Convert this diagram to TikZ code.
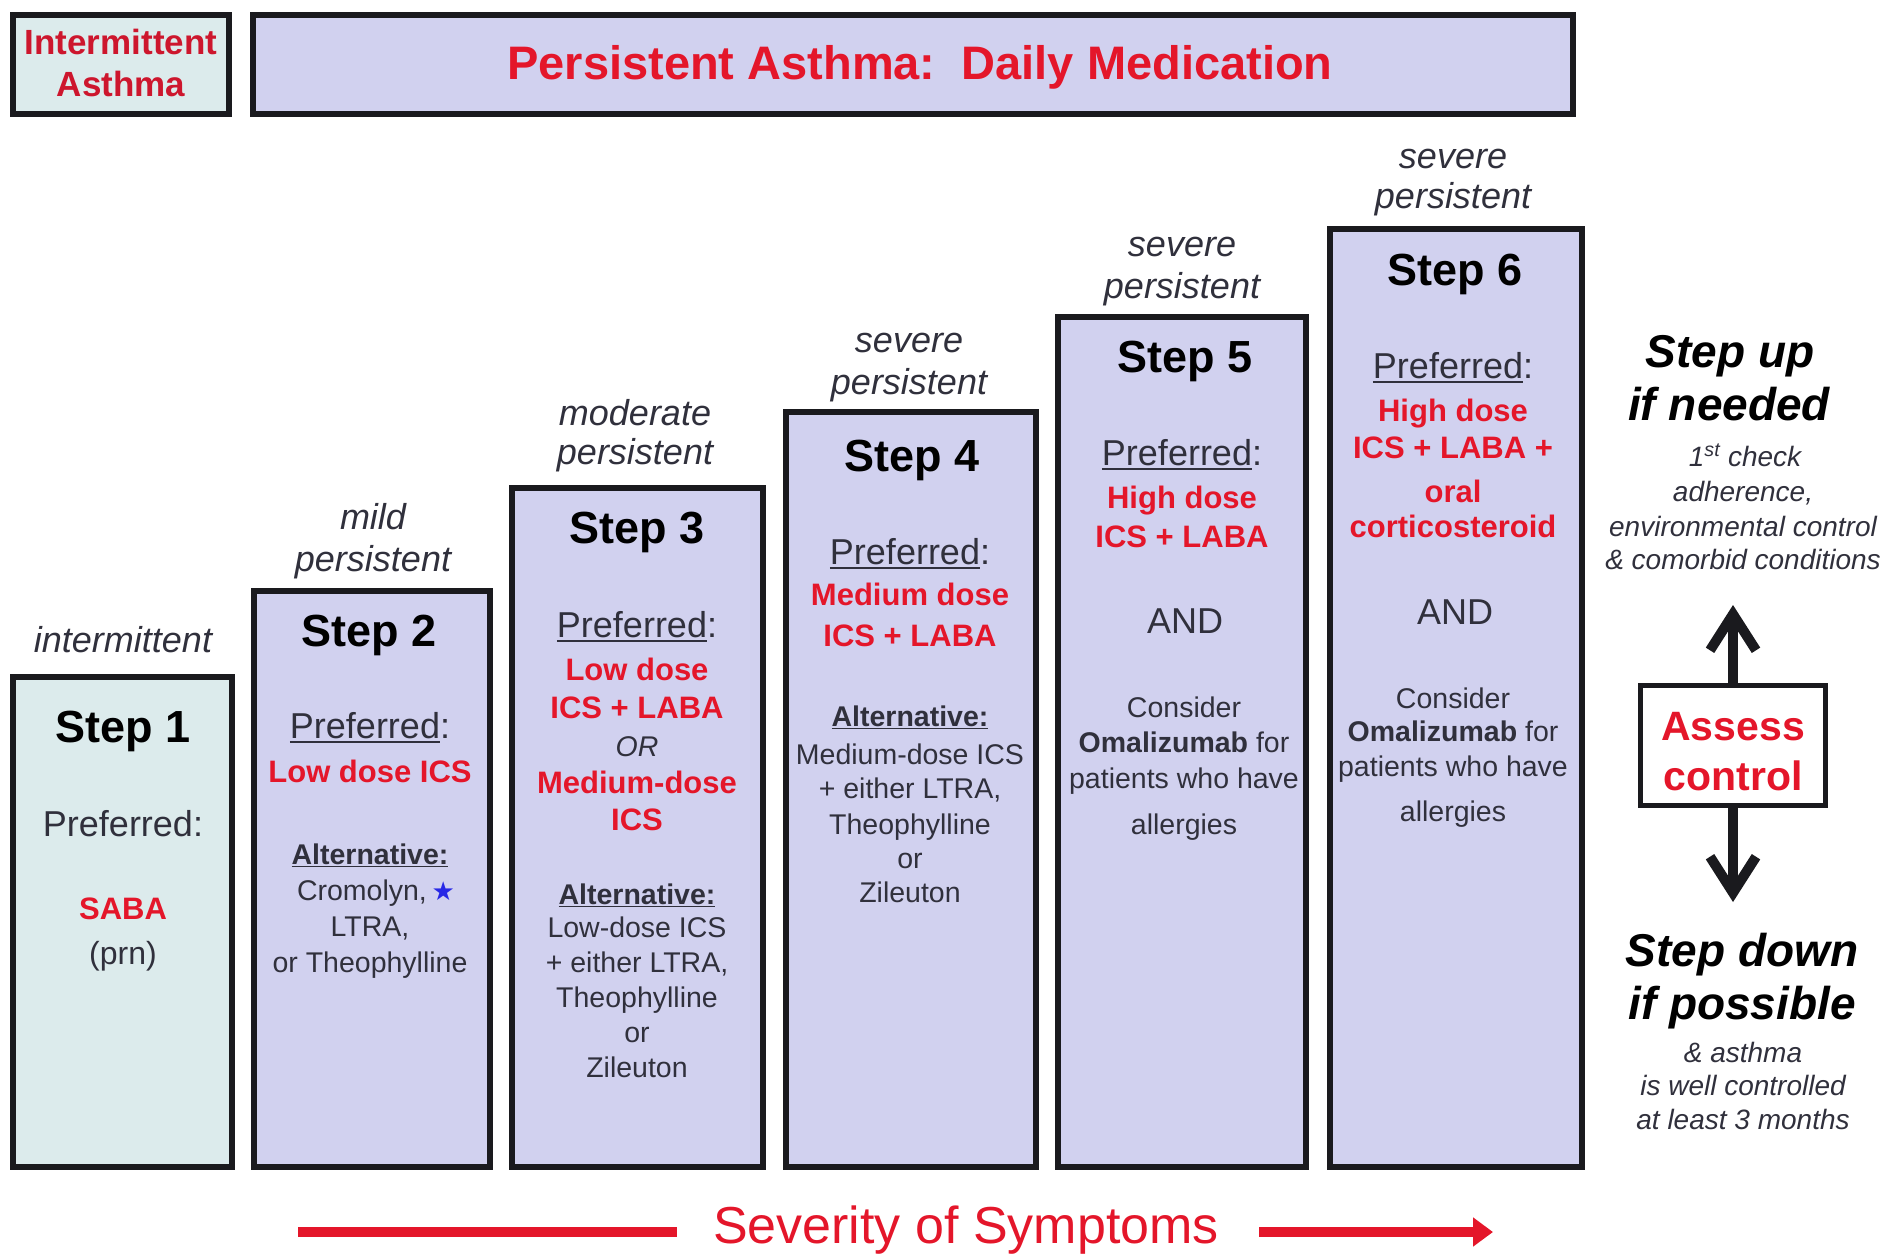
\documentclass[tikz,border=0pt]{standalone}
\usepackage{fontspec}
\setmainfont{Liberation Sans}
\newfontfamily\djv{DejaVu Sans}
\usetikzlibrary{arrows.meta}
\definecolor{cyanfill}{RGB}{220,235,236}
\definecolor{lavfill}{RGB}{209,209,239}
\definecolor{redtxt}{RGB}{228,22,42}
\definecolor{hdrred}{RGB}{205,22,45}
\definecolor{grytxt}{RGB}{48,48,60}
\definecolor{bordc}{RGB}{26,26,30}
\definecolor{starblue}{RGB}{40,40,230}
\newcommand\setfs[1]{\fontsize{#1}{#1}\selectfont}
\newcommand\myul[1]{\setbox0=\hbox{#1}\rlap{\rule[-0.11em]{\wd0}{0.055em}}\box0}
\tikzset{
  boxln/.style={draw=bordc, line width=6pt},
  lbl/.style={anchor=base, inner sep=0pt, yshift=-#1},
  stp/.style={lbl=16pt, font=\bfseries\setfs{45}, text=black},
  pref/.style={lbl=12.6pt, font=\setfs{36}, text=grytxt},
  rtx/.style={lbl=11pt, font=\bfseries\setfs{31}, text=redtxt},
  alt/.style={lbl=10pt, font=\bfseries\setfs{28.5}, text=grytxt},
  sm/.style={lbl=10pt, font=\setfs{28.5}, text=grytxt},
  sev/.style={lbl=12.6pt, font=\itshape\setfs{36}, text=grytxt},
  andt/.style={lbl=12.6pt, font=\setfs{36}, text=grytxt},
  bigit/.style={lbl=16pt, font=\bfseries\itshape\setfs{46}, text=black},
  smit/.style={lbl=10pt, font=\itshape\setfs{28}, text=grytxt},
  updn/.style={line width=10pt, bordc, -{Straight Barb[length=36pt,width=46pt]}},
}
\begin{document}
\begin{tikzpicture}[x=1pt,y=-1pt]
\useasboundingbox (0,0) rectangle (1886,1256);
% header boxes
\draw[boxln, fill=cyanfill] (13,15) rectangle (229,114);
\draw[boxln, fill=lavfill] (253,15) rectangle (1573,114);
\node[lbl=12pt, font=\bfseries\setfs{35}, text=hdrred] (hI1) at (121,42) {Intermittent};
\node[lbl=12pt, font=\bfseries\setfs{35}, text=hdrred] (hI2) at (121,84) {Asthma};
\node[lbl=16.5pt, font=\bfseries\setfs{47}, text=redtxt] (hP) at (920,63) {Persistent Asthma:\ \ Daily Medication};
% step boxes
\draw[boxln, fill=cyanfill] (13,677) rectangle (232,1167);
\draw[boxln, fill=lavfill] (254,591) rectangle (490,1167);
\draw[boxln, fill=lavfill] (512,488) rectangle (763,1167);
\draw[boxln, fill=lavfill] (786,412) rectangle (1036,1167);
\draw[boxln, fill=lavfill] (1058,317) rectangle (1306,1167);
\draw[boxln, fill=lavfill] (1330,229) rectangle (1582,1167);
% step 1
\node[sev] (l1) at (123,640) {intermittent};
\node[stp] (s1t) at (123,726) {Step 1};
\node[pref] (s1p) at (123,824) {Preferred:};
\node[rtx] (s1r) at (123,908) {SABA};
\node[lbl=11pt, font=\setfs{32}, text=grytxt] (s1n) at (123,953) {(prn)};
% step 2
\node[sev] (l2a) at (373,517) {mild};
\node[sev] (l2b) at (373,559) {persistent};
\node[stp] (s2t) at (369,630) {Step 2};
\node[pref] (s2p) at (370,726) {\myul{Preferred}:};
\node[rtx] (s2r) at (370,771) {Low dose ICS};
\node[alt] (s2a) at (370,854) {\myul{Alternative:}};
\node[sm] (s2b) at (376,890) {Cromolyn,\,{\djv\setfs{26}\color{starblue}★}};
\node[sm] (s2c) at (370,926) {LTRA,};
\node[sm] (s2d) at (370,962) {or Theophylline};
% step 3
\node[sev] (l3a) at (635,413) {moderate};
\node[sev] (l3b) at (635,452) {persistent};
\node[stp] (s3t) at (637,527) {Step 3};
\node[pref] (s3p) at (637,625) {\myul{Preferred}:};
\node[rtx] (s3r1) at (637,669) {Low dose};
\node[rtx] (s3r2) at (637,707) {ICS + LABA};
\node[lbl=10pt, font=\itshape\setfs{28.5}, text=grytxt] (s3or) at (637,746) {OR};
\node[rtx] (s3r3) at (637,782) {Medium-dose};
\node[rtx] (s3r4) at (637,819) {ICS};
\node[alt] (s3a) at (637,894) {\myul{Alternative:}};
\node[sm] (s3b) at (637,927) {Low-dose ICS};
\node[sm] (s3c) at (637,962) {+ either LTRA,};
\node[sm] (s3d) at (637,997) {Theophylline};
\node[sm] (s3e) at (637,1032) {or};
\node[sm] (s3f) at (637,1067) {Zileuton};
% step 4
\node[sev] (l4a) at (909,340) {severe};
\node[sev] (l4b) at (909,382) {persistent};
\node[stp] (s4t) at (912,455) {Step 4};
\node[pref] (s4p) at (910,552) {\myul{Preferred}:};
\node[rtx] (s4r1) at (910,594) {Medium dose};
\node[rtx] (s4r2) at (910,635) {ICS + LABA};
\node[alt] (s4a) at (910,716) {\myul{Alternative:}};
\node[sm] (s4b) at (910,754) {Medium-dose ICS};
\node[sm] (s4c) at (910,788) {+ either LTRA,};
\node[sm] (s4d) at (910,824) {Theophylline};
\node[sm] (s4e) at (910,858) {or};
\node[sm] (s4f) at (910,892) {Zileuton};
% step 5
\node[sev] (l5a) at (1182,244) {severe};
\node[sev] (l5b) at (1182,286) {persistent};
\node[stp] (s5t) at (1185,356) {Step 5};
\node[pref] (s5p) at (1182,453) {\myul{Preferred}:};
\node[rtx] (s5r1) at (1182,497) {High dose};
\node[rtx] (s5r2) at (1182,536) {ICS + LABA};
\node[andt] (s5and) at (1185,621) {AND};
\node[sm] (s5b) at (1184,707) {Consider};
\node[sm] (s5c) at (1184,742) {\textbf{Omalizumab} for};
\node[sm] (s5d) at (1184,778) {patients who have};
\node[sm] (s5e) at (1184,824) {allergies};
% step 6
\node[sev] (l6a) at (1453,156) {severe};
\node[sev] (l6b) at (1453,196) {persistent};
\node[stp] (s6t) at (1455,269) {Step 6};
\node[pref] (s6p) at (1453,366) {\myul{Preferred}:};
\node[rtx] (s6r1) at (1453,410) {High dose};
\node[rtx] (s6r2) at (1453,447) {ICS + LABA +};
\node[rtx] (s6r3) at (1453,491) {oral};
\node[rtx] (s6r4) at (1453,526) {corticosteroid};
\node[andt] (s6and) at (1455,612) {AND};
\node[sm] (s6b) at (1453,698) {Consider};
\node[sm] (s6c) at (1453,731) {\textbf{Omalizumab} for};
\node[sm] (s6d) at (1453,766) {patients who have};
\node[sm] (s6e) at (1453,811) {allergies};
% right side
\node[bigit] (up1) at (1730,351) {Step up};
\node[bigit] (up2) at (1729,404) {if needed};
\node[smit] (up3) at (1745,456) {1\textsuperscript{st} check};
\node[smit] (up4) at (1743,491) {adherence,};
\node[smit] (up5) at (1743,526) {environmental control};
\node[smit] (up6) at (1743,559) {\& comorbid conditions};
\node[draw=bordc, line width=5pt, fill=white, minimum width=185pt, minimum height=120pt, inner sep=0pt] (assess) at (1733,745.5) {};
\node[lbl=14pt, font=\bfseries\setfs{41}, text=redtxt] (as1) at (1733,726) {Assess};
\node[lbl=14pt, font=\bfseries\setfs{41}, text=redtxt] (as2) at (1733,776) {control};
\coordinate (upTip) at (1733,605);
\coordinate (dnTip) at (1733,902);
\draw[updn] (assess.north) -- (upTip);
\draw[updn] (assess.south) -- (dnTip);
\node[bigit] (dn1) at (1742,950) {Step down};
\node[bigit] (dn2) at (1742,1003) {if possible};
\node[smit] (dn3) at (1743,1052) {\& asthma};
\node[smit] (dn4) at (1743,1085) {is well controlled};
\node[smit] (dn5) at (1743,1119) {at least 3 months};
% severity arrow
\node[lbl=11pt, font=\setfs{52}, text=redtxt] (sev) at (966,1232) {Severity of Symptoms};
\coordinate (sevL) at (298,1232);
\coordinate (sevR) at (1493,1232);
\draw[line width=10pt, redtxt] (sevL) -- ([xshift=-36pt]sev.west |- sevL);
\draw[line width=10pt, redtxt, -{Triangle[length=20pt,width=28pt]}] ([xshift=40pt]sev.east |- sevR) -- (sevR);
\end{tikzpicture}
\end{document}
